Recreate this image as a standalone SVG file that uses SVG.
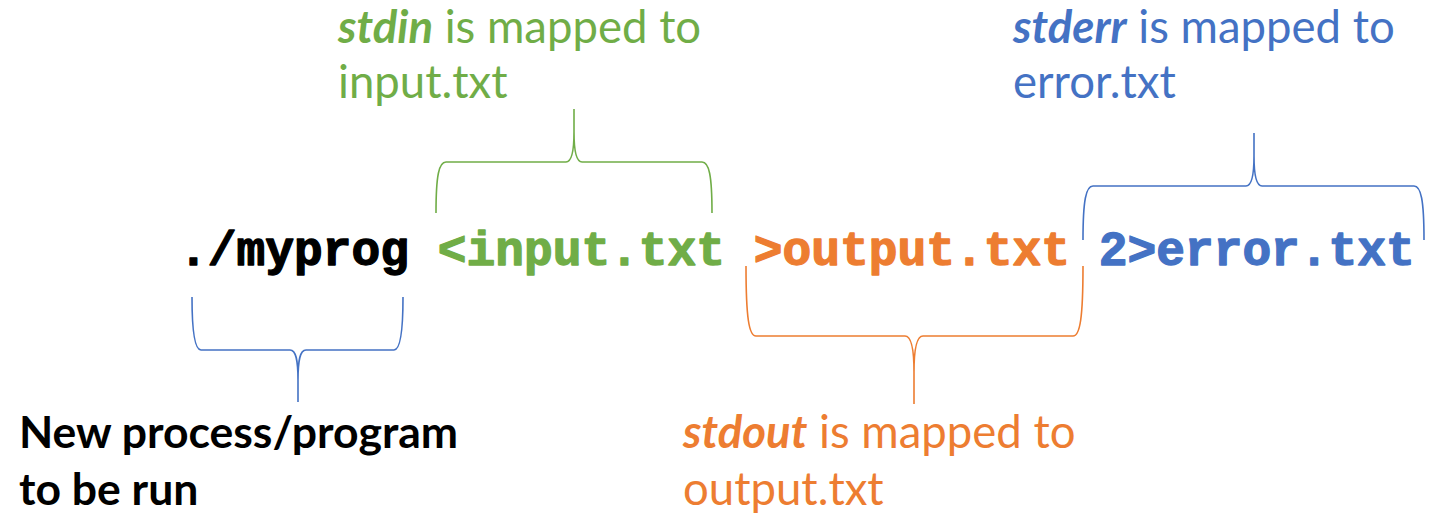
<svg xmlns="http://www.w3.org/2000/svg" width="1438" height="515" viewBox="0 0 1438 515">
<style>
.cmd{font-family:"Liberation Mono","Courier New",monospace;font-weight:bold;font-size:47.9px;stroke-width:1.3px;stroke-linejoin:round}
.lbl{font-family:Lato,"Open Sans",sans-serif;font-size:45.5px}
.bold{font-size:44.5px;font-weight:bold}
.brace{fill:none;stroke-width:1.6}
.g{fill:#70AD47}.o{fill:#ED7D31}.b{fill:#4472C4}.k{fill:#000}
.cmd.g{stroke:#70AD47}.cmd.o{stroke:#ED7D31}.cmd.b{stroke:#4472C4}.cmd.k{stroke:#000}
</style>
<rect width="1438" height="515" fill="#fff"/>
<g id="connectors">
<path class="brace" stroke="#70AD47" d="M436,213 C436,175 439,162 446,162 L566,162 C571,162 574,152 574,132 L574,109 M712,213 C712,175 709,162 702,162 L582,162 C577,162 574,152 574,132"/>
<path class="brace" stroke="#4472C4" d="M1083,240 C1083,200 1086,186 1093,186 L1246,186 C1251,186 1254,176 1254,156 L1254,133 M1424,240 C1424,200 1421,186 1414,186 L1262,186 C1257,186 1254,176 1254,156"/>
<path class="brace" stroke="#ED7D31" d="M746,266 C746,318 749,336 756,336 L905,336 C911,336 914,348 914,372 L914,404 M1083,266 C1083,318 1080,336 1073,336 L923,336 C917,336 914,348 914,372"/>
<path class="brace" stroke="#4472C4" d="M192,297 C192,334 195,350 201,350 L290,350 C296,350 298,360 298,380 L298,402 M403,297 C403,334 400,350 394,350 L306,350 C300,350 298,360 298,380"/>
</g>
<g id="cmd-prog"><text class="cmd k" x="179" y="265">./myprog</text></g>
<g id="cmd-input"><text class="cmd g" x="437.7" y="265">&lt;input.txt</text></g>
<g id="cmd-output"><text class="cmd o" x="753.8" y="265">&gt;output.txt</text></g>
<g id="cmd-error"><text class="cmd b" x="1098.7" y="265">2&gt;error.txt</text></g>
<g id="label-stdin"><text class="lbl g" x="338" y="43"><tspan font-weight="bold" font-style="italic">stdin</tspan> is mapped to</text><text class="lbl g" x="338" y="98">input.txt</text></g>
<g id="label-stderr"><text class="lbl b" x="1013" y="43"><tspan font-weight="bold" font-style="italic">stderr</tspan> is mapped to</text><text class="lbl b" x="1013" y="98">error.txt</text></g>
<g id="label-stdout"><text class="lbl o" x="683" y="448"><tspan font-weight="bold" font-style="italic">stdout</tspan> is mapped to</text><text class="lbl o" x="683" y="505">output.txt</text></g>
<g id="label-prog"><text class="lbl bold k" x="19" y="448">New process/program</text><text class="lbl bold k" x="19" y="505">to be run</text></g>
</svg>
